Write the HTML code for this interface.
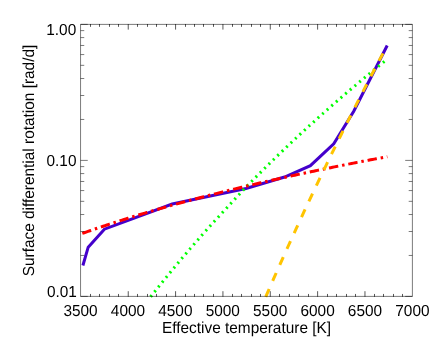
<!DOCTYPE html>
<html><head><meta charset="utf-8"><title>Surface differential rotation</title>
<style>html,body{margin:0;padding:0;background:#fff;}body{width:436px;height:348px;position:relative;overflow:hidden;font-family:"Liberation Sans",sans-serif;}</style>
</head><body>
<svg width="436" height="348" viewBox="0 0 436 348" style="position:absolute;left:0;top:0">
<rect x="0" y="0" width="436" height="348" fill="#fff"/>
<g fill="none" stroke-width="3.0" stroke-linejoin="miter">
<path d="M82.90 265.50 L88.20 247.20 L104.40 229.20 L172.20 204.00 L246.00 188.50 L284.60 177.00 L310.40 165.70 L333.75 143.75 L353.75 111.25 L387.20 45.50" stroke="#4400cc"/>
<path d="M150.62 296.80 L152.52 294.39 L154.42 291.99 L156.31 289.60 L158.21 287.22 L160.10 284.85 L162.00 282.49 L163.90 280.15 L165.79 277.81 L167.69 275.49 L169.59 273.17 L171.48 270.87 L173.38 268.57 L175.27 266.29 L177.17 264.02 L179.07 261.75 L180.96 259.50 L182.86 257.26 L184.76 255.02 L186.65 252.80 L188.55 250.59 L190.44 248.38 L192.34 246.19 L194.24 244.00 L196.13 241.82 L198.03 239.66 L199.93 237.50 L201.82 235.35 L203.72 233.21 L205.61 231.08 L207.51 228.95 L209.41 226.84 L211.30 224.74 L213.20 222.64 L215.10 220.55 L216.99 218.47 L218.89 216.40 L220.79 214.34 L222.68 212.28 L224.58 210.24 L226.47 208.20 L228.34 206.17 L230.20 204.15 L232.05 202.14 L233.89 200.13 L235.72 198.13 L237.56 196.14 L239.40 194.16 L241.24 192.18 L243.10 190.22 L244.96 188.26 L246.84 186.30 L248.73 184.36 L250.63 182.42 L252.52 180.49 L254.42 178.57 L256.31 176.65 L258.21 174.74 L260.11 172.84 L262.00 170.95 L263.90 169.06 L265.80 167.18 L267.69 165.30 L269.59 163.44 L271.48 161.58 L273.38 159.72 L275.28 157.88 L277.17 156.04 L279.07 154.20 L280.97 152.38 L282.86 150.56 L284.76 148.74 L286.66 146.93 L288.55 145.13 L290.45 143.34 L292.34 141.55 L294.24 139.77 L296.14 137.99 L298.03 136.22 L299.93 134.46 L301.83 132.70 L303.72 130.95 L305.62 129.20 L307.51 127.46 L309.41 125.73 L311.31 124.00 L313.20 122.27 L315.10 120.56 L317.00 118.85 L318.89 117.14 L320.79 115.44 L322.68 113.75 L324.58 112.06 L326.48 110.38 L328.37 108.70 L330.27 107.03 L332.17 105.36 L334.06 103.70 L335.96 102.04 L337.85 100.39 L339.75 98.75 L341.65 97.11 L343.54 95.47 L345.44 93.85 L347.34 92.22 L349.23 90.60 L351.13 88.99 L353.03 87.38 L354.92 85.78 L356.82 84.18 L358.71 82.58 L360.61 80.99 L362.51 79.41 L364.40 77.83 L366.30 76.26 L368.20 74.69 L370.09 73.12 L371.99 71.56 L373.88 70.01 L375.78 68.46 L377.68 66.91 L379.57 65.37 L381.47 63.83 L383.37 62.30 L384.60 61.31" stroke="#00ff00" stroke-dasharray="2.0 4.12"/>
<path d="M82.30 233.40 L84.20 232.73 L86.09 232.06 L87.99 231.40 L89.89 230.74 L91.78 230.09 L93.68 229.44 L95.57 228.79 L97.47 228.15 L99.37 227.51 L101.26 226.87 L103.16 226.24 L105.06 225.60 L106.95 224.98 L108.85 224.35 L110.74 223.73 L112.64 223.12 L114.54 222.50 L116.43 221.89 L118.33 221.28 L120.23 220.68 L122.12 220.08 L124.02 219.48 L125.91 218.89 L127.81 218.29 L129.71 217.70 L131.60 217.12 L133.50 216.53 L135.40 215.95 L137.29 215.37 L139.19 214.80 L141.08 214.23 L142.98 213.66 L144.88 213.09 L146.77 212.53 L148.67 211.97 L150.57 211.41 L152.46 210.85 L154.36 210.30 L156.26 209.75 L158.15 209.20 L160.05 208.65 L161.94 208.11 L163.84 207.57 L165.74 207.03 L167.63 206.49 L169.53 205.96 L171.43 205.43 L173.32 204.90 L175.22 204.37 L177.11 203.85 L179.01 203.33 L180.91 202.81 L182.80 202.29 L184.70 201.78 L186.60 201.26 L188.49 200.75 L190.39 200.25 L192.28 199.74 L194.18 199.24 L196.08 198.73 L197.97 198.23 L199.87 197.74 L201.77 197.24 L203.66 196.75 L205.56 196.26 L207.45 195.77 L209.35 195.28 L211.25 194.79 L213.14 194.31 L215.04 193.83 L216.94 193.35 L218.83 192.87 L220.73 192.40 L222.63 191.92 L224.52 191.45 L226.42 190.98 L228.31 190.51 L230.21 190.05 L232.11 189.58 L234.00 189.12 L235.90 188.66 L237.80 188.20 L239.69 187.75 L241.59 187.29 L243.48 186.84 L245.38 186.38 L247.28 185.93 L249.17 185.49 L251.07 185.04 L252.97 184.59 L254.86 184.15 L256.76 183.71 L258.65 183.27 L260.55 182.83 L262.45 182.39 L264.34 181.96 L266.24 181.52 L268.14 181.09 L270.03 180.66 L271.93 180.23 L273.82 179.81 L275.72 179.38 L277.62 178.96 L279.51 178.53 L281.41 178.11 L283.31 177.69 L285.20 177.27 L287.10 176.86 L289.00 176.44 L290.89 176.03 L292.79 175.62 L294.68 175.20 L296.58 174.79 L298.48 174.39 L300.37 173.98 L302.27 173.57 L304.17 173.17 L306.06 172.77 L307.96 172.37 L309.85 171.97 L311.75 171.57 L313.65 171.17 L315.54 170.78 L317.44 170.38 L319.34 169.99 L321.23 169.60 L323.13 169.21 L325.02 168.82 L326.92 168.43 L328.82 168.04 L330.71 167.66 L332.61 167.27 L334.51 166.89 L336.40 166.51 L338.30 166.13 L340.19 165.75 L342.09 165.37 L343.99 164.99 L345.88 164.62 L347.78 164.24 L349.68 163.87 L351.57 163.50 L353.47 163.12 L355.37 162.76 L357.26 162.39 L359.16 162.02 L361.05 161.65 L362.95 161.29 L364.85 160.92 L366.74 160.56 L368.64 160.20 L370.54 159.84 L372.43 159.48 L374.33 159.12 L376.22 158.76 L378.12 158.41 L380.02 158.05 L381.91 157.70 L383.81 157.34 L385.71 156.99 L387.35 156.69" stroke="#ff0000" stroke-dasharray="9.4 3.9 2.5 3.85"/>
<path d="M265.75 296.80 L267.64 292.44 L269.54 288.10 L271.44 283.77 L273.33 279.45 L275.23 275.16 L277.12 270.87 L279.02 266.61 L280.92 262.36 L282.81 258.12 L284.71 253.90 L286.61 249.69 L288.50 245.50 L290.40 241.32 L292.29 237.16 L294.19 233.01 L296.09 228.88 L297.98 224.76 L299.88 220.66 L301.78 216.57 L303.67 212.49 L305.57 208.43 L307.46 204.38 L309.36 200.34 L311.26 196.32 L313.15 192.31 L315.05 188.32 L316.95 184.34 L318.84 180.37 L320.74 176.41 L322.64 172.47 L324.53 168.54 L326.43 164.63 L328.32 160.72 L330.22 156.83 L332.12 152.95 L334.01 149.09 L335.91 145.24 L337.81 141.40 L339.70 137.57 L341.60 133.75 L343.49 129.95 L345.39 126.16 L347.29 122.38 L349.18 118.61 L351.08 114.86 L352.98 111.11 L354.87 107.38 L356.77 103.66 L358.66 99.95 L360.56 96.25 L362.46 92.57 L364.35 88.89 L366.25 85.23 L368.15 81.58 L370.04 77.94 L371.94 74.31 L373.83 70.69 L375.73 67.08 L377.63 63.49 L379.52 59.90 L381.42 56.33 L383.32 52.76 L385.21 49.21 L387.11 45.66 L387.20 45.49" stroke="#ffc400" stroke-dasharray="8.52 8.93"/>
</g>
<path d="M80.55 24.4H412.4V296.4H80.55ZM80.55 296.40h7.2M412.4 296.40h-7.2M80.55 255.46h3.7M412.4 255.46h-3.7M80.55 231.51h3.7M412.4 231.51h-3.7M80.55 214.52h3.7M412.4 214.52h-3.7M80.55 201.34h3.7M412.4 201.34h-3.7M80.55 190.57h3.7M412.4 190.57h-3.7M80.55 181.47h3.7M412.4 181.47h-3.7M80.55 173.58h3.7M412.4 173.58h-3.7M80.55 166.62h3.7M412.4 166.62h-3.7M80.55 160.40h7.2M412.4 160.40h-7.2M80.55 119.46h3.7M412.4 119.46h-3.7M80.55 95.51h3.7M412.4 95.51h-3.7M80.55 78.52h3.7M412.4 78.52h-3.7M80.55 65.34h3.7M412.4 65.34h-3.7M80.55 54.57h3.7M412.4 54.57h-3.7M80.55 45.47h3.7M412.4 45.47h-3.7M80.55 37.58h3.7M412.4 37.58h-3.7M80.55 30.62h3.7M412.4 30.62h-3.7M80.55 24.40h7.2M412.4 24.40h-7.2" fill="none" stroke="#000" stroke-width="0.52"/>
<path d="M90.50 296.80v-2.85M90.50 24.00v2.85M99.50 296.80v-2.85M99.50 24.00v2.85M109.50 296.80v-2.85M109.50 24.00v2.85M118.50 296.80v-2.85M118.50 24.00v2.85M128.24 296.80v-5.60M128.24 24.00v5.60M137.50 296.80v-2.85M137.50 24.00v2.85M147.50 296.80v-2.85M147.50 24.00v2.85M156.50 296.80v-2.85M156.50 24.00v2.85M166.50 296.80v-2.85M166.50 24.00v2.85M175.59 296.80v-5.60M175.59 24.00v5.60M185.50 296.80v-2.85M185.50 24.00v2.85M194.50 296.80v-2.85M194.50 24.00v2.85M203.50 296.80v-2.85M203.50 24.00v2.85M213.50 296.80v-2.85M213.50 24.00v2.85M222.93 296.80v-5.60M222.93 24.00v5.60M232.50 296.80v-2.85M232.50 24.00v2.85M241.50 296.80v-2.85M241.50 24.00v2.85M251.50 296.80v-2.85M251.50 24.00v2.85M260.50 296.80v-2.85M260.50 24.00v2.85M270.27 296.80v-5.60M270.27 24.00v5.60M279.50 296.80v-2.85M279.50 24.00v2.85M289.50 296.80v-2.85M289.50 24.00v2.85M298.50 296.80v-2.85M298.50 24.00v2.85M308.50 296.80v-2.85M308.50 24.00v2.85M317.62 296.80v-5.60M317.62 24.00v5.60M327.50 296.80v-2.85M327.50 24.00v2.85M336.50 296.80v-2.85M336.50 24.00v2.85M346.50 296.80v-2.85M346.50 24.00v2.85M355.50 296.80v-2.85M355.50 24.00v2.85M364.96 296.80v-5.60M364.96 24.00v5.60M374.50 296.80v-2.85M374.50 24.00v2.85M383.50 296.80v-2.85M383.50 24.00v2.85M393.50 296.80v-2.85M393.50 24.00v2.85M402.50 296.80v-2.85M402.50 24.00v2.85" fill="none" stroke="#000" stroke-width="0.66"/>
<defs><filter id="aa" filterUnits="userSpaceOnUse" x="0" y="0" width="436" height="348"><feOffset dx="0" dy="0"/></filter></defs>
<g font-family="'Liberation Sans', sans-serif" fill="#000" text-rendering="geometricPrecision" filter="url(#aa)">
<text transform="translate(80.55 316.40) scale(1 1.035)" text-anchor="middle" font-size="15.4">3500</text>
<text transform="translate(127.96 316.40) scale(1 1.035)" text-anchor="middle" font-size="15.4">4000</text>
<text transform="translate(175.36 316.40) scale(1 1.035)" text-anchor="middle" font-size="15.4">4500</text>
<text transform="translate(222.77 316.40) scale(1 1.035)" text-anchor="middle" font-size="15.4">5000</text>
<text transform="translate(270.18 316.40) scale(1 1.035)" text-anchor="middle" font-size="15.4">5500</text>
<text transform="translate(317.59 316.40) scale(1 1.035)" text-anchor="middle" font-size="15.4">6000</text>
<text transform="translate(364.99 316.40) scale(1 1.035)" text-anchor="middle" font-size="15.4">6500</text>
<text transform="translate(412.40 316.40) scale(1 1.035)" text-anchor="middle" font-size="15.4">7000</text>
<text transform="translate(76.20 34.60) scale(1 1.035)" text-anchor="end" font-size="15.4">1.00</text>
<text transform="translate(76.50 165.55) scale(1 1.035)" text-anchor="end" font-size="15.4">0.10</text>
<text transform="translate(76.90 297.00) scale(1 1.035)" text-anchor="end" font-size="15.4">0.01</text>
<text transform="translate(246.50 332.70) scale(1 1.035)" text-anchor="middle" font-size="15.4">Effective temperature [K]</text>
<text transform="translate(34.40 160.50) rotate(-90) scale(1 1.035)" text-anchor="middle" font-size="15.4">Surface differential rotation [rad/d]</text>
</g>
</svg>
</body></html>
